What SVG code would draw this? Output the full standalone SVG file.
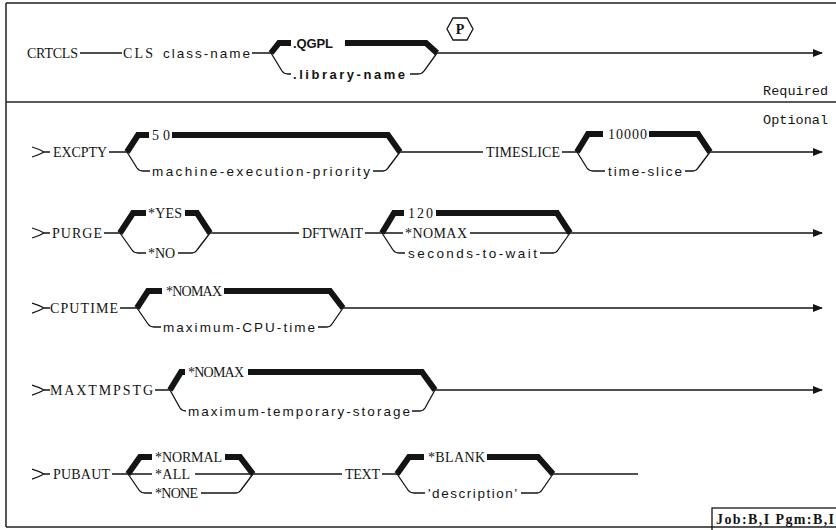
<svg xmlns="http://www.w3.org/2000/svg" width="836" height="530" viewBox="0 0 836 530">
<style>
.thin{fill:none;stroke:#141414;stroke-width:1.3}
.heavy{fill:none;stroke:#141414;stroke-width:6;stroke-linejoin:miter;stroke-miterlimit:10}
.frame{fill:none;stroke:#222;stroke-width:1.5}
text{fill:#141414}
.kw{font-family:"Liberation Serif",serif;font-size:14px}
.var{font-family:"Liberation Sans",sans-serif;font-size:13.5px}
.bv{font-family:"Liberation Sans",sans-serif;font-size:13px;font-weight:bold}
.lab{font-family:"Liberation Mono",monospace;font-size:13.5px}
.jb{font-family:"Liberation Serif",serif;font-size:14px;font-weight:bold}
</style>
<defs>
<marker id="arr" markerUnits="userSpaceOnUse" markerWidth="10" markerHeight="8" refX="9" refY="4" orient="auto"><path d="M0,0 L10,4 L0,8 z" fill="#141414"/></marker>
</defs>
<rect width="836" height="530" fill="#ffffff"/>
<g id="frame">
<path class="frame" d="M6,3 L836,3 M6,3 L6,527 M6,527 L836,527"/>
<path class="frame" d="M6,102 L836,102"/>
<text class="lab" x="763" y="95" textLength="65">Required</text>
<text class="lab" x="763" y="124" textLength="65">Optional</text>
</g>
<g id="connectors">
<!-- row 1 -->
<path class="thin" d="M80,53 L122,53 M252,53 L271,53"/>
<path class="heavy" d="M271,53 L279,43 L291,43"/>
<path class="heavy" d="M345,43 L426,43 L437,53"/>
<path class="thin" d="M271,53 L282,71 Q284,74 288,74 L291,74 M410,74 L418,74 Q422,74 424,71 L437,53"/>
<path class="thin" d="M437,53 L822,53" marker-end="url(#arr)"/>
<!-- row 2 -->
<path class="thin" d="M32,147 Q39,149 44,152 Q39,155 32,157 M44,152 L50,152 M109,152 L127,152"/>
<path class="heavy" d="M127,152 L138,135 L149,135"/>
<path class="heavy" d="M172,135 L388,135 L400,152"/>
<path class="thin" d="M127,152 L137,168 Q139,171 143,171 L150,171 M373,171 L383,171 Q386,171 388,168 L400,152"/>
<path class="thin" d="M400,152 L483,152 M562,152 L577,152"/>
<path class="heavy" d="M577,152 L588,134 L603,134"/>
<path class="heavy" d="M649,134 L698,134 L710,152"/>
<path class="thin" d="M577,152 L587,168 Q589,171 593,171 L605,171 M685,171 L693,171 Q696,171 698,168 L710,152"/>
<path class="thin" d="M710,152 L822,152" marker-end="url(#arr)"/>
<!-- row 3 -->
<path class="thin" d="M32,228 Q39,230 44,233 Q39,236 32,238 M44,233 L50,233 M104,233 L120,233"/>
<path class="heavy" d="M120,233 L133,213 L146,213"/>
<path class="heavy" d="M185,213 L197,213 L210,233"/>
<path class="thin" d="M120,233 L132,250 Q134,253 138,253 L146,253 M178,253 L192,253 Q195,253 197,250 L210,233"/>
<path class="thin" d="M210,233 L299,233 M365,233 L382,233"/>
<path class="heavy" d="M382,233 L394,213 L404,213"/>
<path class="heavy" d="M436,213 L557,213 L570,233"/>
<path class="thin" d="M382,233 L403,233 M470,233 L570,233"/>
<path class="thin" d="M382,233 L393,250 Q395,253 399,253 L405,253 M540,253 L553,253 Q556,253 558,250 L570,233"/>
<path class="thin" d="M570,233 L822,233" marker-end="url(#arr)"/>
<!-- row 4 -->
<path class="thin" d="M32,303 Q39,305 44,308 Q39,311 32,313 M44,308 L50,308 M120,308 L137,308"/>
<path class="heavy" d="M137,308 L148,291 L162,291"/>
<path class="heavy" d="M224,291 L330,291 L343,308"/>
<path class="thin" d="M137,308 L148,324 Q150,327 154,327 L161,327 M318,327 L327,327 Q330,327 332,324 L343,308"/>
<path class="thin" d="M343,308 L822,308" marker-end="url(#arr)"/>
<!-- row 5 -->
<path class="thin" d="M32,385 Q39,387 44,390 Q39,393 32,395 M44,390 L50,390 M155,390 L170,390"/>
<path class="heavy" d="M170,390 L181,372 L185,372"/>
<path class="heavy" d="M248,372 L422,372 L435,390"/>
<path class="thin" d="M170,390 L180,408 Q182,411 186,411 M412,411 L420,411 Q423,411 425,408 L435,390"/>
<path class="thin" d="M435,390 L822,390" marker-end="url(#arr)"/>
<!-- row 6 -->
<path class="thin" d="M32,469 Q39,471 44,474 Q39,477 32,479 M44,474 L50,474 M112,474 L128,474"/>
<path class="heavy" d="M128,474 L140,457 L152,457"/>
<path class="heavy" d="M225,457 L240,457 L253,474"/>
<path class="thin" d="M128,474 L152,474 M195,474 L253,474"/>
<path class="thin" d="M128,474 L139,490 Q141,493 145,493 L152,493 M201,493 L236,493 Q239,493 241,490 L253,474"/>
<path class="thin" d="M253,474 L342,474 M382,474 L397,474"/>
<path class="heavy" d="M397,474 L409,457 L424,457"/>
<path class="heavy" d="M487,457 L538,457 L553,474"/>
<path class="thin" d="M397,474 L408,490 Q410,493 414,493 L425,493 M521,493 L537,493 Q540,493 542,490 L553,474"/>
<path class="thin" d="M553,474 L638,474"/>
</g>
<g id="n-crtcls"><text class="kw" x="27" y="58" textLength="51">CRTCLS</text></g>
<g id="n-cls"><text class="kw" x="123" y="58" textLength="30">CLS</text><text class="var" x="163" y="58" textLength="87">class-name</text></g>
<g id="n-qgpl"><text class="bv" x="293" y="47.5" textLength="40">.QGPL</text></g>
<g id="n-libname"><text class="bv" x="293" y="78.5" textLength="112">.library-name</text></g>
<g id="n-p"><polygon points="447,29 453,18 467,18 473,29 467,40 453,40" fill="none" stroke="#141414" stroke-width="1.3"/><text class="kw" x="460" y="34" text-anchor="middle" font-weight="bold">P</text></g>
<g id="n-excpty"><text class="kw" x="53" y="157" textLength="54">EXCPTY</text></g>
<g id="n-50"><text class="kw" x="152" y="140" textLength="18">50</text></g>
<g id="n-mep"><text class="var" x="152" y="175.5" textLength="218">machine-execution-priority</text></g>
<g id="n-timeslice"><text class="kw" x="486" y="157" textLength="74">TIMESLICE</text></g>
<g id="n-10000"><text class="kw" x="608" y="139" textLength="39">10000</text></g>
<g id="n-ts"><text class="var" x="608" y="175.5" textLength="74">time-slice</text></g>
<g id="n-purge"><text class="kw" x="52" y="238" textLength="50">PURGE</text></g>
<g id="n-yes"><text class="kw" x="148" y="218" textLength="34">*YES</text></g>
<g id="n-no"><text class="kw" x="148" y="258" textLength="27">*NO</text></g>
<g id="n-dftwait"><text class="kw" x="302" y="238" textLength="61">DFTWAIT</text></g>
<g id="n-120"><text class="kw" x="408" y="218" textLength="25">120</text></g>
<g id="n-nomax1"><text class="kw" x="405" y="238" textLength="62">*NOMAX</text></g>
<g id="n-stw"><text class="var" x="408" y="257.5" textLength="129">seconds-to-wait</text></g>
<g id="n-cputime"><text class="kw" x="50" y="313" textLength="68">CPUTIME</text></g>
<g id="n-nomax2"><text class="kw" x="166" y="296" textLength="56">*NOMAX</text></g>
<g id="n-mct"><text class="var" x="163" y="331.5" textLength="152">maximum-CPU-time</text></g>
<g id="n-maxtmpstg"><text class="kw" x="50" y="395" textLength="103">MAXTMPSTG</text></g>
<g id="n-nomax3"><text class="kw" x="188" y="377" textLength="56">*NOMAX</text></g>
<g id="n-mts"><text class="var" x="188" y="415.5" textLength="222">maximum-temporary-storage</text></g>
<g id="n-pubaut"><text class="kw" x="53" y="479" textLength="57">PUBAUT</text></g>
<g id="n-normal"><text class="kw" x="155" y="462" textLength="67">*NORMAL</text></g>
<g id="n-all"><text class="kw" x="155" y="479" textLength="35">*ALL</text></g>
<g id="n-none"><text class="kw" x="155" y="498" textLength="43">*NONE</text></g>
<g id="n-text"><text class="kw" x="345" y="479" textLength="35">TEXT</text></g>
<g id="n-blank"><text class="kw" x="428" y="462" textLength="57">*BLANK</text></g>
<g id="n-desc"><text class="var" x="428" y="497.5" textLength="89">'description'</text></g>
<g id="n-job"><rect x="712" y="508" width="130" height="30" fill="none" stroke="#141414" stroke-width="1.3"/><text class="jb" x="716" y="524" textLength="118">Job:B,I  Pgm:B,I</text></g>
</svg>
